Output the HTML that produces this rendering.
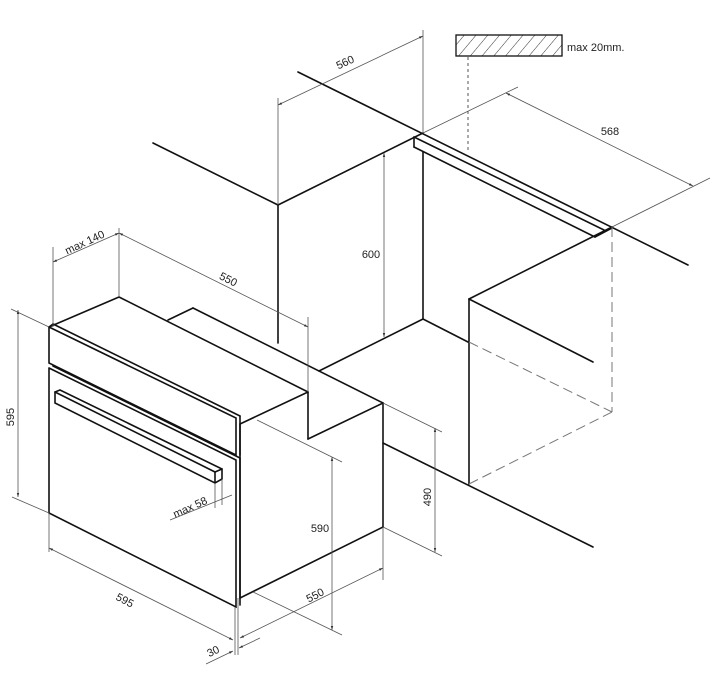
<!DOCTYPE html>
<html><head><meta charset="utf-8"><style>
html,body{margin:0;padding:0;background:#fff;}
svg{display:block;}
text{font-family:"Liberation Sans",sans-serif;fill:#222;}
</style></head><body>
<svg width="718" height="693" viewBox="0 0 718 693" xmlns="http://www.w3.org/2000/svg">
<defs>
<marker id="a" viewBox="0 0 10 10" refX="10" refY="5" markerWidth="5" markerHeight="5" orient="auto-start-reverse"><path d="M0,2 L10,5 L0,8 z" fill="#333"/></marker>
<pattern id="h" width="9" height="9" patternUnits="userSpaceOnUse" patternTransform="rotate(40)"><line x1="0" y1="0" x2="0" y2="9" stroke="#333" stroke-width="1"/></pattern>
</defs>
<g stroke="#111" stroke-width="1.6" fill="none" stroke-linecap="round">
<!-- countertop / cabinet -->
<line x1="153" y1="143" x2="278" y2="205"/>
<line x1="298" y1="72" x2="688" y2="265"/>
<line x1="278" y1="205" x2="423" y2="133"/>
<line x1="278" y1="205" x2="278" y2="343"/>
<!-- rail -->
<line x1="414" y1="137" x2="604" y2="230"/>
<line x1="414" y1="137" x2="414" y2="147"/>
<line x1="414" y1="147" x2="595" y2="237"/>
<line x1="595" y1="237" x2="612" y2="228"/>
<line x1="423" y1="152" x2="423" y2="319"/>
<line x1="423" y1="319" x2="319" y2="371"/>
<line x1="423" y1="319" x2="468" y2="342"/>
<!-- right wall -->
<line x1="612" y1="227" x2="469" y2="299"/>
<line x1="469" y1="299" x2="469" y2="484"/>
<line x1="469" y1="299" x2="593" y2="362"/>
<line x1="383" y1="443" x2="593" y2="547"/>
<!-- oven top -->
<line x1="49" y1="327" x2="119" y2="297"/>
<line x1="119" y1="297" x2="308" y2="392"/>
<line x1="168" y1="320" x2="193" y2="308"/>
<line x1="193" y1="308" x2="383" y2="403"/>
<line x1="308" y1="392" x2="240" y2="424"/>
<line x1="308" y1="392" x2="308" y2="439"/>
<line x1="308" y1="439" x2="383" y2="403"/>
<line x1="383" y1="403" x2="383" y2="527"/>
<line x1="383" y1="527" x2="240" y2="598"/>
<line x1="240" y1="424" x2="240" y2="598"/>
<!-- control panel -->
<polyline points="49,327 49,363 236,455 236,418 49,327"/>
<line x1="53" y1="324" x2="240" y2="416"/>
<line x1="240" y1="416" x2="240" y2="455"/>
<line x1="49" y1="327" x2="53" y2="324"/>
<!-- door -->
<polyline points="49,368 49,513 236,607 236,460 49,368"/>
<line x1="53" y1="366" x2="240" y2="458"/>
<line x1="240" y1="458" x2="240" y2="605"/>
<!-- handle -->
<polyline points="55,392 55,403 215,483 222,479 222,469 60,390 55,392"/>
<line x1="215" y1="483" x2="215" y2="472"/>
<line x1="55" y1="392" x2="215" y2="472"/>
<line x1="215" y1="472" x2="222" y2="469"/>
</g>
<!-- dashed -->
<g stroke="#777" stroke-width="1" fill="none" stroke-dasharray="10,5">
<line x1="612" y1="227" x2="612" y2="412"/>
<line x1="469" y1="342" x2="612" y2="412"/>
<line x1="469" y1="484" x2="612" y2="412"/>
</g>
<line x1="468" y1="57" x2="468" y2="150" stroke="#555" stroke-width="1" stroke-dasharray="3,3"/>
<!-- hatch box -->
<rect x="456" y="35" width="106" height="21" fill="url(#h)" stroke="#111" stroke-width="1.3"/>
<text x="567" y="51" font-size="11">max 20mm.</text>
<!-- dimension lines -->
<g stroke="#555" stroke-width="0.8" fill="none">
<line x1="278" y1="98" x2="278" y2="205"/>
<line x1="423" y1="30" x2="423" y2="133"/>
<line x1="278" y1="105" x2="423" y2="36" marker-start="url(#a)" marker-end="url(#a)"/>
<line x1="423" y1="133" x2="518" y2="87"/>
<line x1="612" y1="227" x2="710" y2="178"/>
<line x1="506" y1="93" x2="693" y2="186" marker-start="url(#a)" marker-end="url(#a)"/>
<line x1="384" y1="153" x2="384" y2="337" marker-start="url(#a)" marker-end="url(#a)"/>
<line x1="53" y1="247" x2="53" y2="327"/>
<line x1="119" y1="228" x2="119" y2="297"/>
<line x1="53" y1="262" x2="119" y2="233" marker-start="url(#a)" marker-end="url(#a)"/>
<line x1="308" y1="317" x2="308" y2="392"/>
<line x1="119" y1="233" x2="308" y2="327" marker-start="url(#a)" marker-end="url(#a)"/>
<line x1="11" y1="309" x2="49" y2="327"/>
<line x1="12" y1="497" x2="49" y2="513"/>
<line x1="18" y1="310" x2="18" y2="497" marker-start="url(#a)" marker-end="url(#a)"/>
<line x1="49" y1="513" x2="49" y2="552"/>
<line x1="235" y1="607" x2="235" y2="655"/>
<line x1="238" y1="598" x2="238" y2="655"/>
<line x1="49" y1="548" x2="233" y2="640" marker-start="url(#a)" marker-end="url(#a)"/>
<line x1="206" y1="664" x2="233" y2="651" marker-end="url(#a)"/>
<line x1="260" y1="638" x2="239" y2="648" marker-end="url(#a)"/>
<line x1="383" y1="527" x2="383" y2="580"/>
<line x1="240" y1="638" x2="383" y2="568" marker-start="url(#a)" marker-end="url(#a)"/>
<line x1="257" y1="420" x2="342" y2="462"/>
<line x1="253" y1="592" x2="342" y2="635"/>
<line x1="332" y1="457" x2="332" y2="630" marker-start="url(#a)" marker-end="url(#a)"/>
<line x1="383" y1="403" x2="442" y2="432"/>
<line x1="383" y1="527" x2="442" y2="556"/>
<line x1="435" y1="428" x2="435" y2="552" marker-start="url(#a)" marker-end="url(#a)"/>
<line x1="215" y1="483" x2="215" y2="508"/>
<line x1="222" y1="479" x2="222" y2="505"/>
<line x1="170" y1="520" x2="232" y2="495"/>
</g>
<g font-size="11">
<text x="345" y="66" text-anchor="middle" transform="rotate(-25 345 62)">560</text>
<text x="610" y="135" text-anchor="middle">568</text>
<text x="371" y="258" text-anchor="middle">600</text>
<text x="85" y="246" text-anchor="middle" transform="rotate(-25 85 243)">max 140</text>
<text x="228" y="283" text-anchor="middle" transform="rotate(27 228 280)">550</text>
<text x="14" y="417" text-anchor="middle" transform="rotate(-90 14 417)">595</text>
<text x="125" y="604" text-anchor="middle" transform="rotate(28 125 600)">595</text>
<text x="213" y="655" text-anchor="middle" transform="rotate(-26 213 651)">30</text>
<text x="315" y="599" text-anchor="middle" transform="rotate(-27 315 595)">550</text>
<text x="320" y="532" text-anchor="middle">590</text>
<text x="428" y="500" text-anchor="middle" transform="rotate(-90 428 497)">490</text>
<text x="190" y="511" text-anchor="middle" transform="rotate(-24 190 507)">max 58</text>
</g>
</svg>
</body></html>
